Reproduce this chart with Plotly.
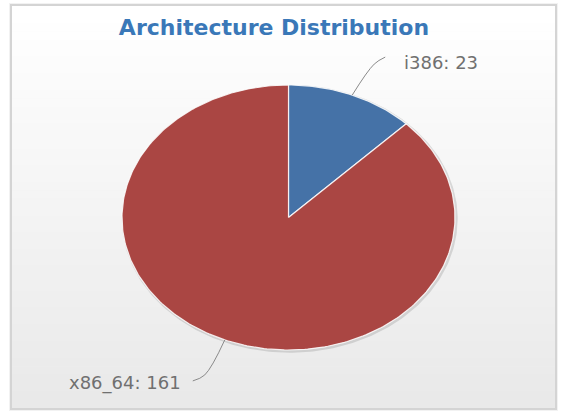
import numpy as np
import plotly.graph_objects as go

# ---- data ----
categories = ["i386", "x86_64"]
counts = [23, 161]
slice_colors = ["#4572A7", "#AA4643"]
title_text = "Architecture Distribution"

# ---- layout geometry (pixels, y downwards) ----
W, H = 564, 416
cx, cy = 288.5, 217.5      # pie centre
rx, ry = 166.5, 132.5      # pie radii (chart is stretched horizontally)

fig = go.Figure()
shapes = []

# frame shadow + gradient background + border
shapes.append(dict(type="rect", xref="x", yref="y", x0=9, x1=558, y0=3, y1=411,
                   fillcolor="rgba(0,0,0,0.05)", line_width=0, layer="below"))
top, bottom, left, right = 6, 408, 12, 555
n = 48
for i in range(n):
    y0 = top + (bottom - top) * i / n
    y1 = top + (bottom - top) * (i + 1) / n + 0.6
    t = i / (n - 1)
    v = round(255 - (255 - 233) * t)
    shapes.append(dict(type="rect", xref="x", yref="y", x0=left, x1=right, y0=y0, y1=y1,
                       fillcolor=f"rgb({v},{v},{v})", line_width=0, layer="below"))
shapes.append(dict(type="rect", xref="x", yref="y", x0=left - 1, x1=right + 1, y0=top - 1, y1=bottom + 1,
                   fillcolor="rgba(0,0,0,0)", line=dict(color="#d4d4d4", width=2), layer="below"))


def ell(theta):
    return cx + rx * np.sin(theta), cy - ry * np.cos(theta)


total = float(sum(counts))

# pie shadow
th = np.linspace(0, 2 * np.pi, 361)
sx, sy = ell(th)
fig.add_trace(go.Scatter(x=sx + 1.2, y=sy + 1.2, mode="lines",
                         line=dict(color="rgba(0,0,0,0.12)", width=3),
                         hoverinfo="skip", showlegend=False))

# slices (clockwise from 12 o'clock)
start = 0.0
mids = []
for cat, val, col in zip(categories, counts, slice_colors):
    frac = val / total
    a0 = start * 2 * np.pi
    a1 = (start + frac) * 2 * np.pi
    t = np.linspace(a0, a1, max(20, int(360 * frac)))
    px, py = ell(t)
    xs = np.concatenate([[cx], px, [cx]])
    ys = np.concatenate([[cy], py, [cy]])
    fig.add_trace(go.Scatter(x=xs, y=ys, mode="lines", fill="toself", fillcolor=col,
                             line=dict(color="rgba(255,255,255,0.85)", width=1.2),
                             name=cat, hoverinfo="skip", showlegend=False))
    mids.append((a0 + a1) / 2)
    start += frac

# data labels with curved connectors
annotations = []
for cat, val, m in zip(categories, counts, mids):
    ex, ey = ell(m)
    right_side = np.sin(m) >= 0
    if right_side:
        pts_x = [ex, ex + 22, ex + 33]
        pts_y = [ey, ey - 31, ey - 38]
        lx, ly, anchor = ex + 50, ey - 33, "left"
    else:
        pts_x = [ex, ex - 20, ex - 32]
        pts_y = [ey, ey + 35, ey + 41]
        lx, ly, anchor = ex - 42, ey + 43, "right"
    fig.add_trace(go.Scatter(x=pts_x, y=pts_y, mode="lines",
                             line=dict(color="#8a8a8a", width=1, shape="spline", smoothing=1.0),
                             hoverinfo="skip", showlegend=False))
    annotations.append(dict(x=lx, y=ly, xref="x", yref="y", text=f"{cat}: {val}",
                            showarrow=False, xanchor=anchor, yanchor="middle",
                            font=dict(family="DejaVu Sans", size=18, color="#707070")))

fig.update_layout(
    width=W, height=H,
    margin=dict(l=0, r=0, t=0, b=0),
    paper_bgcolor="white", plot_bgcolor="white",
    xaxis=dict(range=[0, W], visible=False, fixedrange=True),
    yaxis=dict(range=[H, 0], visible=False, fixedrange=True),
    shapes=shapes,
    annotations=annotations,
    title=dict(text=f"<b>{title_text}</b>", x=274 / W, xanchor="center", xref="paper",
               y=1 - 27 / H, yanchor="middle", yref="paper",
               font=dict(family="DejaVu Sans", size=22, color="#3a78b8")),
    showlegend=False,
)

fig.write_html("out.html", config={"displayModeBar": False},
               post_script="document.body.style.margin='0';document.body.style.overflow='hidden';")
